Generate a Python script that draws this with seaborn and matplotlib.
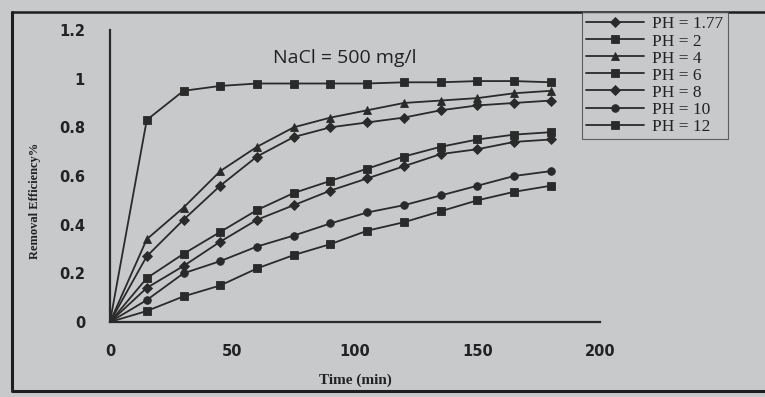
import matplotlib
matplotlib.use("Agg")
import matplotlib.pyplot as plt
from matplotlib.lines import Line2D
import numpy as np
import pandas as pd
import seaborn as sns

# sampling times (min)
time_min = [0, 15, 30, 45, 60, 75, 90, 105, 120, 135, 150, 165, 180]

# removal efficiency
ph_177 = [0, 0.27, 0.42, 0.56, 0.68, 0.76, 0.80, 0.82, 0.84, 0.87, 0.89, 0.90, 0.91]
ph_2 = [0, 0.83, 0.95, 0.97, 0.98, 0.98, 0.98, 0.98, 0.985, 0.985, 0.99, 0.99, 0.985]
ph_4 = [0, 0.34, 0.47, 0.62, 0.72, 0.80, 0.84, 0.87, 0.90, 0.91, 0.92, 0.94, 0.95]
ph_6 = [0, 0.18, 0.28, 0.37, 0.46, 0.53, 0.58, 0.63, 0.68, 0.72, 0.75, 0.77, 0.78]
ph_8 = [0, 0.14, 0.23, 0.33, 0.42, 0.48, 0.54, 0.59, 0.64, 0.69, 0.71, 0.74, 0.75]
ph_10 = [0, 0.09, 0.20, 0.25, 0.31, 0.355, 0.405, 0.45, 0.48, 0.52, 0.56, 0.60, 0.62]
ph_12 = [0, 0.045, 0.105, 0.15, 0.22, 0.275, 0.32, 0.375, 0.41, 0.455, 0.50, 0.535, 0.56]

labels = ["PH = 1.77", "PH = 2", "PH = 4", "PH = 6", "PH = 8", "PH = 10", "PH = 12"]
series = [ph_177, ph_2, ph_4, ph_6, ph_8, ph_10, ph_12]
markers = ["D", "s", "^", "s", "D", "o", "s"]

df = pd.concat(
    [pd.DataFrame({"Time (min)": time_min, "eff": vals, "PH": lab})
     for lab, vals in zip(labels, series)],
    ignore_index=True,
)

bg = "#c8c9cb"
ink = "#2a2a2a"

sns.set_style("white")
plt.rcParams["font.family"] = ["DejaVu Sans"]

fig = plt.figure(figsize=(7.65, 3.97), dpi=100, facecolor=bg)
ax = fig.add_axes([0.1438, 0.189, 0.6405, 0.7355])
ax.set_facecolor(bg)

sns.lineplot(data=df, x="Time (min)", y="eff", hue="PH", style="PH",
             palette=[ink] * len(labels), markers=dict(zip(labels, markers)),
             dashes=False, markersize=5.5, linewidth=1.3, markeredgewidth=0.6,
             markeredgecolor=ink, ax=ax)

ax.set_xlim(0, 200)
ax.set_ylim(0, 1.2)
ax.set_xticks([0, 50, 100, 150, 200])
ax.set_yticks([0, 0.2, 0.4, 0.6, 0.8, 1.0, 1.2])
ax.set_yticklabels(["0", "0.2", "0.4", "0.6", "0.8", "1", "1.2"])
for t in ax.get_xticklabels() + ax.get_yticklabels():
    t.set_fontweight("bold")
    t.set_fontsize(10.5)
    t.set_color("#222222")
ax.tick_params(axis="y", direction="out", length=6, width=1.3, color=ink, pad=12)
ax.tick_params(axis="x", direction="out", length=4, width=1.3, color=ink, pad=12)

sns.despine(ax=ax)
for s in ["left", "bottom"]:
    ax.spines[s].set_color(ink)
    ax.spines[s].set_linewidth(1.6)

ax.set_xlabel("Time (min)", family="Liberation Serif", fontweight="bold",
              fontsize=11, color="#222222", labelpad=10)
ax.set_ylabel("")
fig.text(35 / 765, 0.495, "Removal Efficiency%", rotation=90,
         ha="center", va="center", family="Liberation Serif", fontweight="bold",
         fontsize=9, color="#222222")

ax.text(0.48, 0.905, "NaCl = 500 mg/l", transform=ax.transAxes, ha="center",
        va="center", fontsize=14, family="Open Sans", color="#222222")

handles, labs = ax.get_legend_handles_labels()
ax.get_legend().remove()
leg = fig.legend(handles, labs, loc="upper left",
                 bbox_to_anchor=(582 / 765, 1 - 12 / 397), frameon=True,
                 fancybox=False, edgecolor="#444444", facecolor=bg,
                 prop={"family": "Liberation Serif", "size": 12.5},
                 handlelength=3.3, handletextpad=0.5, labelspacing=0.05,
                 borderpad=0.25, borderaxespad=0)
leg.get_frame().set_linewidth(0.8)
for t in leg.get_texts():
    t.set_color("#222222")

# dark frame of the scanned page
fig.add_artist(Line2D([12 / 765, 12 / 765], [8 / 397, 1 - 12 / 397],
                      transform=fig.transFigure, color="#1e1e1e", lw=2.2))
fig.add_artist(Line2D([12 / 765, 1], [1 - 12 / 397, 1 - 12 / 397],
                      transform=fig.transFigure, color="#1e1e1e", lw=1.8))
fig.add_artist(Line2D([12 / 765, 1], [6 / 397, 6 / 397],
                      transform=fig.transFigure, color="#1e1e1e", lw=2.2))

fig.savefig("out.png", dpi=100, facecolor=bg)
